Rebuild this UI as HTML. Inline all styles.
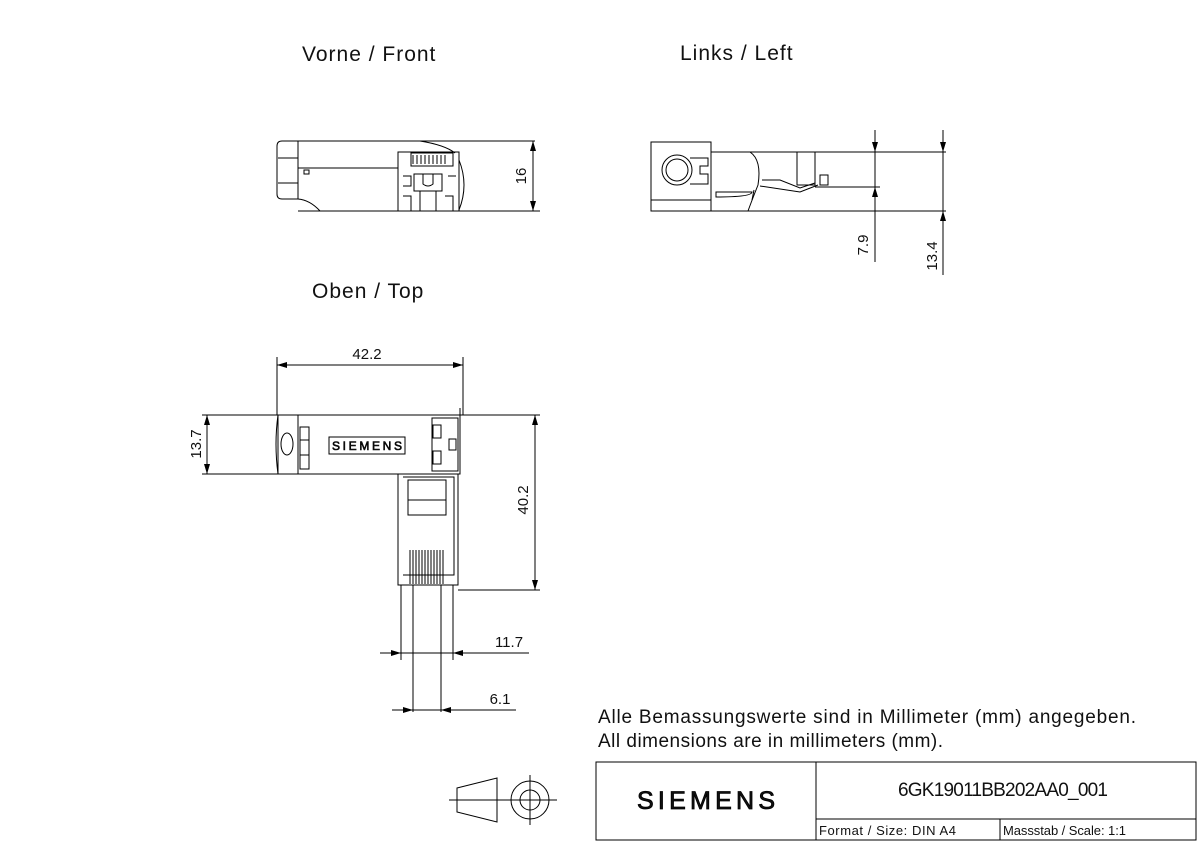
<!DOCTYPE html>
<html><head><meta charset="utf-8"><style>
html,body{margin:0;padding:0;background:#fff;}
svg{display:block;}
text{font-family:"Liberation Sans",sans-serif;fill:#111;}
</style></head><body>
<svg width="1200" height="853" viewBox="0 0 1200 853" xmlns="http://www.w3.org/2000/svg">
<defs>
<marker id="a" markerWidth="10" markerHeight="6" refX="10" refY="3" orient="auto-start-reverse" markerUnits="userSpaceOnUse"><path d="M0,0 L10,3 L0,6z" fill="#000"/></marker>
</defs>
<g fill="none" stroke="#000" stroke-width="1">
<!-- Front view -->
<path d="M282,141 H298 V199 H282 Q277,199 277,194 V146 Q277,141 282,141z"/>
<path d="M278,158 H298 M278,183 H298"/>
<path d="M298,141 H535 M298,211 H540 M298,199 Q310,200 320,211"/>
<path d="M298,168 H398 M304,170 h5 v4 h-5z"/>
<path d="M420,141 Q445,145 455,153"/>
<rect x="398" y="152" width="61" height="59"/>
<rect x="411" y="153" width="42" height="13"/>
<path d="M413,155 v9 M417,155 v9 M421,155 v9 M425,155 v9 M429,155 v9 M433,155 v9 M437,155 v9 M441,155 v9 M445,155 v9"/>
<rect x="414" y="174" width="28" height="17"/>
<path d="M423,174 v10 q5,4 10,0 v-10 M403,176 h8 v10 h-8 M448,176 h8 M403,196 h8 v15 M445,196 h8 v15 M420,191 v20 M436,191 v20 M459,160 q10,25 0,50"/>
<path d="M533,141 V211" marker-start="url(#a)" marker-end="url(#a)"/>
<!-- Left view -->
<rect x="651" y="142" width="60" height="69"/>
<path d="M651,200 H711"/>
<circle cx="677" cy="170" r="15"/><circle cx="677" cy="170" r="11"/>
<path d="M690,158 H708 V166 H700 V174 H708 V184 H690"/>
<path d="M711,152 H946 M711,211 H946 M815,187 H880 M797,152 V185 H815 V152 M820,175 h8 v10 h-8z"/>
<path d="M750,152 Q762,160 758,185 Q752,200 748,211 M716,192 H752 Q752,197 716,197z"/>
<path d="M762,180 H780 L800,188 L815,183 M760,186 L800,192 L818,185 M754,190 L752,200"/>
<path d="M875,130 V262 M943,130 V275"/>
<path d="M875,130 V152" marker-end="url(#a)"/>
<path d="M875,211 V187" marker-end="url(#a)"/>
<path d="M943,130 V152" marker-end="url(#a)"/>
<path d="M943,230 V211" marker-end="url(#a)"/>
<!-- Top view -->
<path d="M278,415 H460 V474 H278z"/>
<path d="M298,415 V474 M278,415 Q274,444 278,474"/>
<ellipse cx="287" cy="444" rx="6" ry="11"/>
<rect x="300" y="427" width="9" height="42"/><path d="M300,440 h9 M300,455 h9"/>
<rect x="329" y="437" width="76" height="17"/>
<rect x="432" y="418" width="26" height="53"/>
<rect x="433" y="425" width="8" height="13"/><rect x="433" y="451" width="8" height="13"/><rect x="449" y="439" width="7" height="11"/>
<path d="M460,408 V474"/>
<path d="M398,474 H458 V585 H398z M403,477 H454 V575 H403"/>
<rect x="408" y="480" width="38" height="35"/><path d="M408,500 h38"/>
<path d="M410,550 v34 M413,550 v34 M416,550 v34 M419,550 v34 M422,550 v34 M425,550 v34 M428,550 v34 M431,550 v34 M434,550 v34 M437,550 v34 M440,550 v34 M443,550 v34"/>
<path d="M401,585 V660 M453,585 V660 M413,585 V712 M441,585 V712"/>
<!-- dims top -->
<path d="M277,357 V415 M463,357 V415 M202,415 H278 M202,474 H278 M460,415 H540 M458,590 H540"/>
<path d="M277,365 H463" marker-start="url(#a)" marker-end="url(#a)"/>
<path d="M207,415 V474" marker-start="url(#a)" marker-end="url(#a)"/>
<path d="M535,415 V590" marker-start="url(#a)" marker-end="url(#a)"/>
<path d="M380,653 H529"/>
<path d="M380,653 H401" marker-end="url(#a)"/>
<path d="M475,653 H453" marker-end="url(#a)"/>
<path d="M392,710 H516"/>
<path d="M392,710 H413" marker-end="url(#a)"/>
<path d="M465,710 H441" marker-end="url(#a)"/>
<!-- projection symbol -->
<path d="M457,788 L497,778 V822 L457,812z M449,800 H507"/>
<circle cx="530" cy="800" r="19"/><circle cx="530" cy="800" r="10"/><path d="M503,800 H557 M530,775 V825"/>
<!-- title block -->
<rect x="596" y="762" width="600" height="78"/>
<path d="M816,762 V840 M816,819 H1196 M1000,819 V840"/>
</g>
<text x="302" y="61" font-size="21" letter-spacing="1">Vorne / Front</text>
<text x="680" y="60" font-size="21" letter-spacing="1">Links / Left</text>
<text x="312" y="298" font-size="21" letter-spacing="1">Oben / Top</text>
<text transform="translate(526,176) rotate(-90)" font-size="15" text-anchor="middle">16</text>
<text transform="translate(868,245) rotate(-90)" font-size="15" text-anchor="middle">7.9</text>
<text transform="translate(937,256) rotate(-90)" font-size="15" text-anchor="middle">13.4</text>
<text x="367" y="359" font-size="15" text-anchor="middle">42.2</text>
<text transform="translate(201,444) rotate(-90)" font-size="15" text-anchor="middle">13.7</text>
<text transform="translate(528,500) rotate(-90)" font-size="15" text-anchor="middle">40.2</text>
<text x="367" y="450" font-size="12" text-anchor="middle" textLength="70" fill="none" stroke="#000" stroke-width="0.6">SIEMENS</text>
<text x="509" y="647" font-size="15" text-anchor="middle">11.7</text>
<text x="500" y="704" font-size="15" text-anchor="middle">6.1</text>
<text x="598" y="723" font-size="19" textLength="538">Alle Bemassungswerte sind in Millimeter (mm) angegeben.</text>
<text x="598" y="747" font-size="19" textLength="345">All dimensions are in millimeters (mm).</text>
<text x="706" y="809" font-size="25" text-anchor="middle" textLength="138" fill="#fff" stroke="#000" stroke-width="0.8">SIEMENS</text>
<text x="1003" y="796" font-size="19" text-anchor="middle" textLength="210">6GK19011BB202AA0_001</text>
<text x="819" y="835" font-size="13" textLength="137">Format / Size: DIN A4</text>
<text x="1003" y="835" font-size="13" textLength="123">Massstab / Scale: 1:1</text>
</svg>
</body></html>
